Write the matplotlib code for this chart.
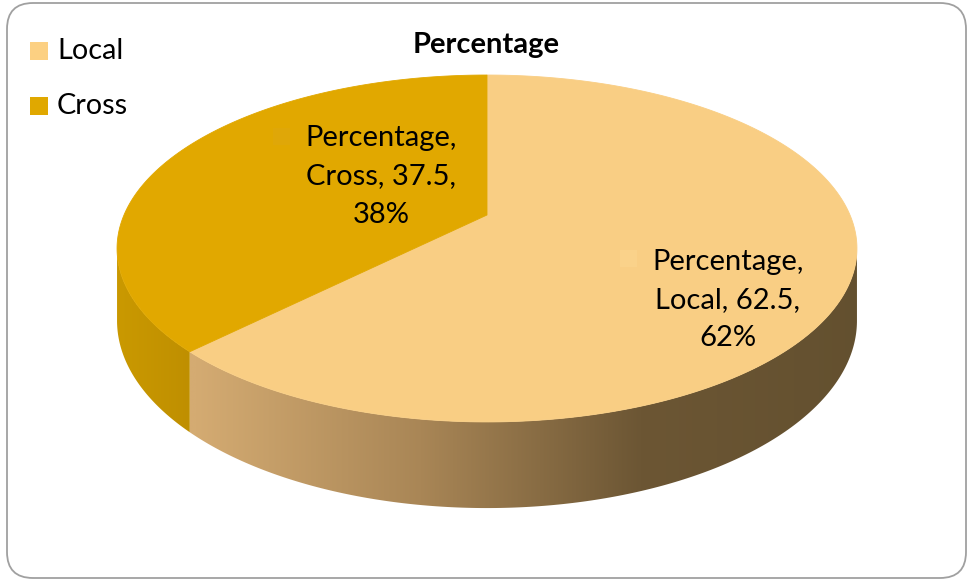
import numpy as np
import matplotlib
matplotlib.use("Agg")
import matplotlib.pyplot as plt
from matplotlib.patches import Polygon, FancyBboxPatch, Rectangle

# ---- data ----
title = "Percentage"
categories = ["Local", "Cross"]
values = [62.5, 37.5]
top_colors = ["#F9CE84", "#E1A800"]
legend_colors = ["#FCD082", "#E0A800"]

plt.rcParams['font.family'] = ['Lato', 'DejaVu Sans']

fig = plt.figure(figsize=(9.7, 5.81), dpi=100)
ax = fig.add_axes([0, 0, 1, 1])
ax.set_xlim(0, 970)
ax.set_ylim(581, 0)
ax.axis('off')

# frame
frame = FancyBboxPatch((7, 3), 959, 575, boxstyle="round,pad=0,rounding_size=26",
                       fc="white", ec="#A0A0A0", lw=1.3, zorder=0)
ax.add_patch(frame)

# perspective projection of the pie
cx, cy0 = 487.0, 215.0
A, B, k, D = 363.0, 167.0, 0.193, 69.5


def proj(t_deg, r=1.0, depth=0.0):
    t = np.radians(t_deg)
    u = r * np.cos(t)
    w = -r * np.sin(t)
    d = 1 - k * w
    x = cx + A * u / d
    y = cy0 + B * w / d + depth * D / d
    return x, y


total = sum(values)
start = 90.0
spans = []
for v in values:
    ang = v / total * 360.0
    spans.append((start - ang, start))  # clockwise
    start -= ang

vis_lo = -180 + np.degrees(np.arcsin(k))
vis_hi = -np.degrees(np.arcsin(k))

side_grads = [
    ([195, 420, 640, 870], ["#D4AB72", "#A98656", "#6C5634", "#63502F"]),
    ([110, 205], ["#CB9A00", "#BD8D00"]),
]


def hex2rgb(h):
    h = h.lstrip('#')
    return np.array([int(h[i:i + 2], 16) / 255 for i in (0, 2, 4)])


# sides
for i, (t0, t1) in enumerate(spans):
    for off in (0, 360, -360):
        a0, a1 = t0 + off, t1 + off
        lo, hi = max(a0, vis_lo), min(a1, vis_hi)
        if lo >= hi:
            continue
        ts = np.linspace(lo, hi, 200)
        xt, yt = proj(ts)
        xb, yb = proj(ts, depth=1.0)
        pts = np.column_stack([np.concatenate([xt, xb[::-1]]),
                               np.concatenate([yt, yb[::-1]])])
        poly = Polygon(pts, closed=True, fc="none", ec="none", zorder=2)
        ax.add_patch(poly)
        xs_stop, cols = side_grads[i]
        xmin, xmax = pts[:, 0].min() - 2, pts[:, 0].max() + 2
        ymin, ymax = pts[:, 1].min() - 2, pts[:, 1].max() + 2
        gx = np.linspace(xmin, xmax, 400)
        rgb = np.stack([np.interp(gx, xs_stop, [hex2rgb(c)[j] for c in cols]) for j in range(3)], axis=-1)
        img = np.repeat(rgb[None, :, :], 2, axis=0)
        im = ax.imshow(img, extent=(xmin, xmax, ymax, ymin), aspect='auto',
                       zorder=2, interpolation='bilinear')
        im.set_clip_path(poly)

ax.set_xlim(0, 970)
ax.set_ylim(581, 0)

# top faces
for i, (t0, t1) in enumerate(spans):
    ts = np.linspace(t0, t1, 300)
    x, y = proj(ts)
    c = proj(0, r=0.0)
    pts = np.column_stack([np.concatenate([[c[0]], x]), np.concatenate([[c[1]], y])])
    ax.add_patch(Polygon(pts, closed=True, fc=top_colors[i], ec=top_colors[i],
                         lw=0.6, zorder=3))

# title
ax.text(486, 45, title, ha='center', va='center', fontsize=21,
        fontweight='bold', color='black', zorder=5)

# legend
leg_y = [51, 106]
for i, cat in enumerate(categories):
    ax.add_patch(Rectangle((30, leg_y[i] - 9), 18, 18, fc=legend_colors[i], ec='none', zorder=5))
    ax.text(57, leg_y[i], cat, ha='left', va='center', fontsize=20.8, color='black', zorder=5)

# data labels
label_pos = [(728, [262, 300, 338], (620, 250)), (381, [138, 176, 215], (273, 128))]
key_colors = ["#FAD28A", "#DFA708"]
for i, cat in enumerate(categories):
    pct = values[i] / total * 100
    lines = [f"{title},", f"{cat}, {values[i]},", f"{pct:.0f}%"]
    xc, ys, (kx, ky) = label_pos[i]
    for ln, yy in zip(lines, ys):
        ax.text(xc, yy, ln, ha='center', va='center', fontsize=21, color='black', zorder=6)
    ax.add_patch(Rectangle((kx, ky), 17, 17, fc=key_colors[i], ec='none', zorder=5))

fig.savefig("out.png", dpi=100)
